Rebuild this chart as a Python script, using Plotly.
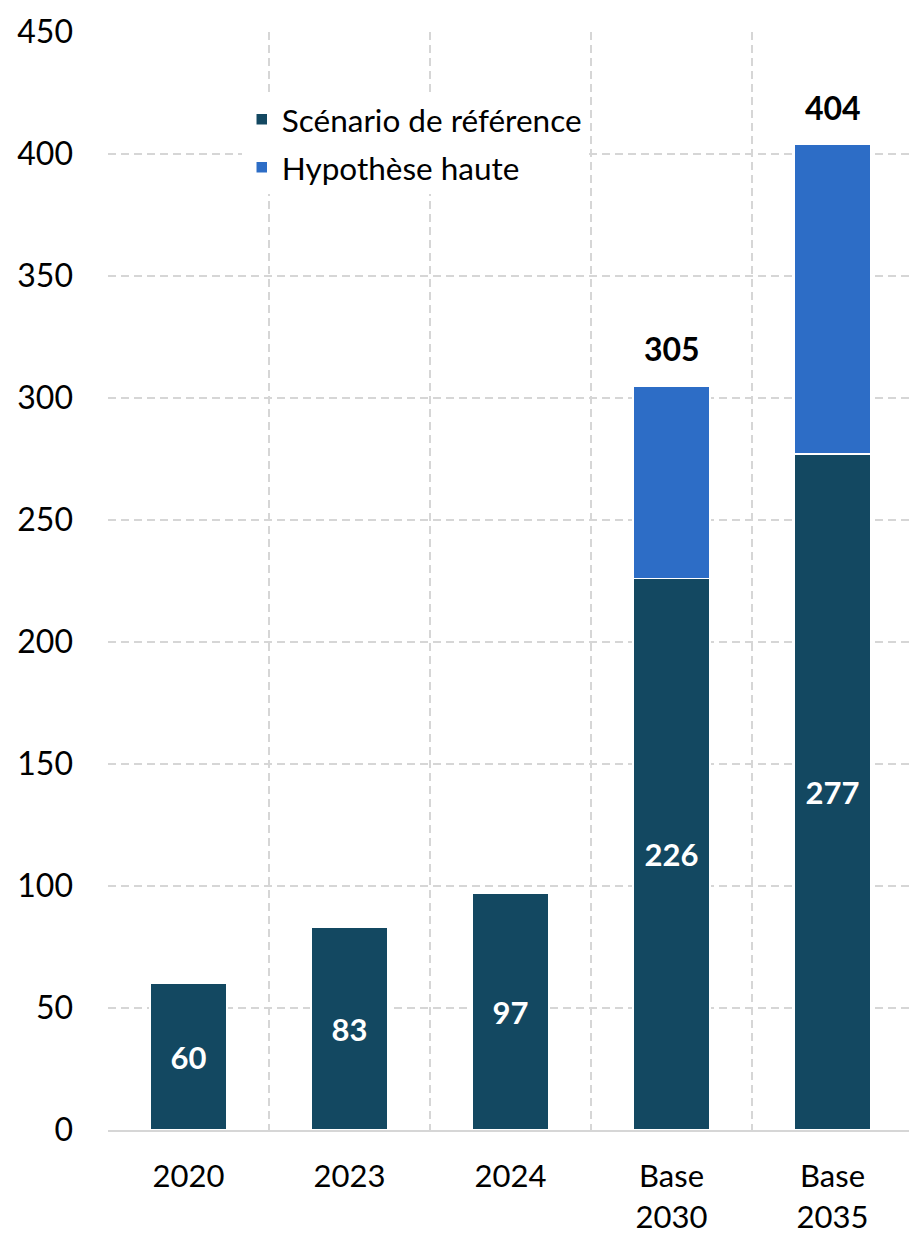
import plotly.graph_objects as go

categories = ["2020", "2023", "2024", "Base<br>2030", "Base<br>2035"]
reference_values = [60, 83, 97, 226, 277]
high_extra_values = [None, None, None, 79, 127]
totals = [None, None, None, 305, 404]
y_ticks = [0, 50, 100, 150, 200, 250, 300, 350, 400, 450]

DARK = "#134861"
BLUE = "#2D6DC6"
GRID = "#D6D6D6"
FONT = "Lato"

fig = go.Figure()
fig.add_trace(go.Bar(
    x=categories, y=reference_values, name="Scénario de référence",
    marker=dict(color=DARK, line=dict(color="white", width=1.5)),
    width=0.48, legendgroup="a",
    text=[str(v) for v in reference_values], textposition="inside",
    insidetextanchor="middle",
    textfont=dict(family=FONT, size=31, color="white", weight="bold"),
    hoverinfo="skip",
))
fig.add_trace(go.Bar(
    x=categories, y=high_extra_values, name="Hypothèse haute",
    marker=dict(color=BLUE, line=dict(color="white", width=1.5)),
    width=0.48, legendgroup="b",
    hoverinfo="skip",
))

for c, t in zip(categories, totals):
    if t is not None:
        fig.add_annotation(
            x=c, y=t, text=str(t), showarrow=False, yanchor="middle",
            yshift=37, font=dict(family=FONT, size=32, color="black", weight="bold"),
        )

fig.update_layout(
    width=909, height=1238,
    margin=dict(l=108, r=0, t=32, b=108),
    barmode="stack",
    plot_bgcolor="white", paper_bgcolor="white",
    font=dict(family=FONT, size=32, color="black"),
    showlegend=True,
    legend=dict(
        x=0.167, y=0.945, xanchor="left", yanchor="top",
        bgcolor="white", traceorder="grouped", tracegroupgap=4,
        font=dict(family=FONT, size=31.5, color="black"),
    ),
    bargap=0.52,
)
fig.update_xaxes(
    type="category", range=[-0.5, 4.475], tickson="boundaries",
    showgrid=True, gridcolor=GRID, gridwidth=2, griddash="8px,5px",
    showline=True, linecolor=GRID, linewidth=2, ticks="", automargin=False,
    ticklabelstandoff=18, tickfont=dict(family=FONT, size=31, color="black"),
)
fig.update_yaxes(
    range=[0, 450], tickvals=y_ticks, showgrid=True, gridcolor=GRID,
    gridwidth=2, griddash="8px,5px", zeroline=False, showline=False,
    ticks="", ticklabelstandoff=34, automargin=False,
    tickfont=dict(family=FONT, size=32, color="black"),
)

fig.write_html(
    "out.html",
    config={"displayModeBar": False},
    post_script="document.body.style.margin='0';document.body.style.overflow='hidden';",
)
